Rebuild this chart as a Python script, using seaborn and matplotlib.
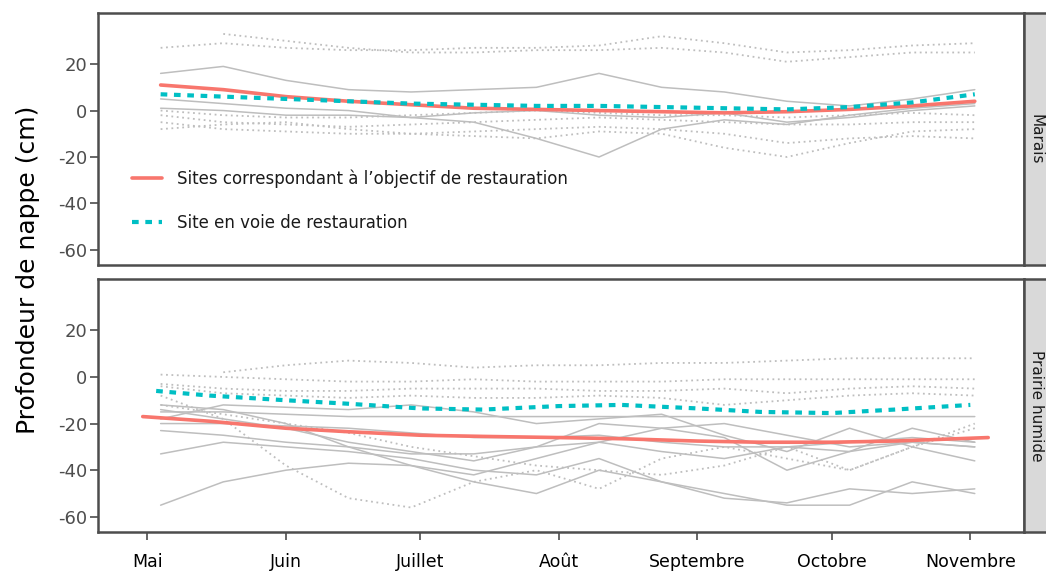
import matplotlib
matplotlib.use("Agg")
import matplotlib.pyplot as plt
import matplotlib.patches as mpatches
import seaborn as sns
import pandas as pd

# ---------------- data ----------------
GRID = ["2019-05-04", "2019-05-18", "2019-06-01", "2019-06-15", "2019-06-29",
        "2019-07-13", "2019-07-27", "2019-08-10", "2019-08-24", "2019-09-07",
        "2019-09-21", "2019-10-05", "2019-10-19", "2019-11-02"]

# Marais - individual sites
marais_solid = [
    [16, 19, 13, 9, 8, 9, 10, 16, 10, 8, 4, 2, 5, 9],
    [1, 0, -2, -2, -3, -5, -12, -20, -8, -4, -6, -2, 1, 3],
    [5, 3, 1, 0, -3, -1, 0, -2, -3, -1, -5, -3, 0, 2],
]
marais_dotted = [
    [27, 29, 27, 26, 26, 27, 27, 28, 32, 29, 25, 26, 28, 29],
    [None, 33, 30, 27, 25, 25, 26, 26, 27, 25, 21, 23, 25, 25],
    [-2, -5, -6, -7, -6, -5, -4, -3, -4, -5, -6, -6, -5, -5],
    [-5, -8, -9, -10, -10, -9, -8, -7, -8, -10, -14, -12, -11, -12],
    [0, -2, -3, -3, -2, -1, 0, -1, -2, -2, -3, -2, -1, -2],
    [-8, -6, -5, -8, -10, -11, -12, -9, -10, -16, -20, -14, -9, -8],
]
marais_obj = [11, 9, 6, 4, 2.5, 1, 0.5, 0, -0.5, -1, -0.5, 0.5, 2, 4]
marais_voie = [7, 6, 5, 4, 3, 2.5, 2, 2, 1.5, 1, 0.5, 1.5, 3.5, 7]

# Prairie humide - individual sites
prairie_solid = [
    [-55, -45, -40, -37, -38, -45, -50, -40, -45, -52, -54, -48, -50, -48],
    [-33, -28, -30, -32, -35, -40, -42, -35, -45, -50, -55, -55, -45, -50],
    [-23, -25, -28, -30, -33, -33, -30, -28, -32, -35, -30, -32, -28, -30],
    [-20, -20, -21, -22, -24, -26, -26, -25, -28, -30, -30, -28, -26, -28],
    [-15, -15, -16, -17, -17, -17, -17, -17, -17, -17, -17, -17, -17, -17],
    [-12, -14, -20, -30, -38, -42, -35, -28, -22, -20, -25, -30, -28, -30],
    [-18, -12, -13, -14, -12, -15, -20, -18, -16, -25, -32, -22, -30, -36],
    [-14, -18, -22, -28, -32, -36, -30, -20, -22, -26, -40, -32, -22, -28],
]
prairie_dotted = [
    [None, 2, 5, 7, 6, 4, 5, 5, 6, 6, 7, 8, 8, 8],
    [1, 0, -1, -2, -2, -1, -2, -2, -2, -1, -1, -1, -1, -1],
    [-3, -5, -6, -6, -5, -5, -5, -6, -6, -5, -7, -5, -4, -5],
    [-4, -7, -8, -9, -8, -9, -9, -8, -9, -12, -10, -8, -7, -8],
    [-8, -18, -38, -52, -56, -45, -40, -48, -35, -30, -35, -40, -30, -22],
    [-12, -16, -20, -24, -30, -34, -38, -40, -42, -38, -30, -40, -30, -20],
]
prairie_dates_obj = ["2019-04-30", "2019-05-15", "2019-06-01", "2019-06-15", "2019-07-01",
                     "2019-07-15", "2019-08-01", "2019-08-15", "2019-09-01", "2019-09-15",
                     "2019-10-01", "2019-10-15", "2019-11-05"]
prairie_obj = [-17, -19, -22, -23.5, -25, -25.5, -26, -26.5, -27.5, -28, -28, -27.5, -26]
prairie_dates_voie = ["2019-05-03", "2019-05-15", "2019-06-01", "2019-06-15", "2019-07-01",
                      "2019-07-15", "2019-08-01", "2019-08-15", "2019-09-01", "2019-09-15",
                      "2019-10-01", "2019-10-15", "2019-11-01"]
prairie_voie = [-6, -8, -10, -11.5, -13.5, -14, -12.5, -12, -13.5, -15, -15.5, -14, -12]

month_ticks = ["2019-05-01", "2019-06-01", "2019-07-01", "2019-08-01",
               "2019-09-01", "2019-10-01", "2019-11-01"]
month_labels = ["Mai", "Juin", "Juillet", "Août", "Septembre", "Octobre", "Novembre"]
y_ticks = [20, 0, -20, -40, -60]
panel_labels = ["Marais", "Prairie humide"]
legend_labels = ["Sites correspondant à l’objectif de restauration",
                 "Site en voie de restauration"]

# ---------------- style ----------------
sns.set_theme(style="white")
plt.rcParams["font.family"] = ["DejaVu Sans"]

RED = "#F8766D"
CYAN = "#00BFC4"
GREY = "#BEBEBE"
BORDER = "#4D4D4D"

fig = plt.figure(figsize=(10.46, 5.71), dpi=100)
W, H = 1046, 571
def rect(x0, y0, x1, y1):
    return [x0 / W, 1 - y1 / H, (x1 - x0) / W, (y1 - y0) / H]

ax_top = fig.add_axes(rect(98, 13, 1024, 265))
ax_bot = fig.add_axes(rect(98, 279, 1024, 532))

grid = pd.to_datetime(GRID)

def draw(ax, solids, dotteds, d_obj, v_obj, d_voie, v_voie, with_label):
    for s in solids:
        df = pd.DataFrame({"d": grid, "v": s}).dropna()
        sns.lineplot(data=df, x="d", y="v", ax=ax, color=GREY, lw=1.1, zorder=2)
    for s in dotteds:
        df = pd.DataFrame({"d": grid, "v": s}).dropna()
        sns.lineplot(data=df, x="d", y="v", ax=ax, color=GREY, lw=1.3,
                     linestyle=(0, (1, 2)), zorder=2)
    sns.lineplot(x=pd.to_datetime(d_obj), y=v_obj, ax=ax, color=RED, lw=2.6, zorder=4,
                 label=legend_labels[0] if with_label else None)
    sns.lineplot(x=pd.to_datetime(d_voie), y=v_voie, ax=ax, color=CYAN, lw=3,
                 linestyle=(0, (1.6, 1.6)), zorder=5,
                 label=legend_labels[1] if with_label else None)

draw(ax_top, marais_solid, marais_dotted, GRID, marais_obj, GRID, marais_voie, True)
draw(ax_bot, prairie_solid, prairie_dotted, prairie_dates_obj, prairie_obj,
     prairie_dates_voie, prairie_voie, False)

xmin, xmax = pd.Timestamp("2019-04-20"), pd.Timestamp("2019-11-13")
for ax in (ax_top, ax_bot):
    ax.set_xlim(xmin, xmax)
    ax.set_ylim(-66.5, 42)
    ax.set_yticks(y_ticks)
    ax.set_yticklabels([str(t) for t in y_ticks], color="#4D4D4D", fontsize=13)
    ax.set_xticks(pd.to_datetime(month_ticks))
    ax.set_xlabel("")
    ax.set_ylabel("")
    ax.tick_params(axis="both", which="both", length=6, width=1.2, color="#4D4D4D",
                   left=True, bottom=True, pad=2)
    for sp in ax.spines.values():
        sp.set_color(BORDER)
        sp.set_linewidth(1.8)
    ax.set_facecolor("white")

ax_top.set_xticklabels([])
ax_top.tick_params(axis="x", bottom=False)
ax_bot.set_xticklabels(month_labels, color="black", fontsize=12.5)
ax_bot.tick_params(axis="x", pad=9)

leg = ax_top.legend(loc="upper left", bbox_to_anchor=(0.03, 0.405), frameon=False,
                    fontsize=12, handlelength=1.8, labelspacing=1.55,
                    handletextpad=0.85, borderaxespad=0)
for t in leg.get_texts():
    t.set_color("#1A1A1A")

# facet strips
for (y0, y1), lab in zip([(13, 265), (279, 532)], panel_labels):
    fig.patches.append(mpatches.Rectangle((1024 / W, 1 - y1 / H), 40 / W, (y1 - y0) / H,
                                          transform=fig.transFigure, facecolor="#D9D9D9",
                                          edgecolor=BORDER, lw=1.8, zorder=0))
    fig.text(1036 / W, 1 - ((y0 + y1) / 2) / H, lab, rotation=-90, ha="center",
             va="center", fontsize=11, color="#1A1A1A")

fig.text(28 / W, 1 - 270 / H, "Profondeur de nappe (cm)", rotation=90,
         ha="center", va="center", fontsize=18, color="black")

fig.savefig("out.png", dpi=100)
